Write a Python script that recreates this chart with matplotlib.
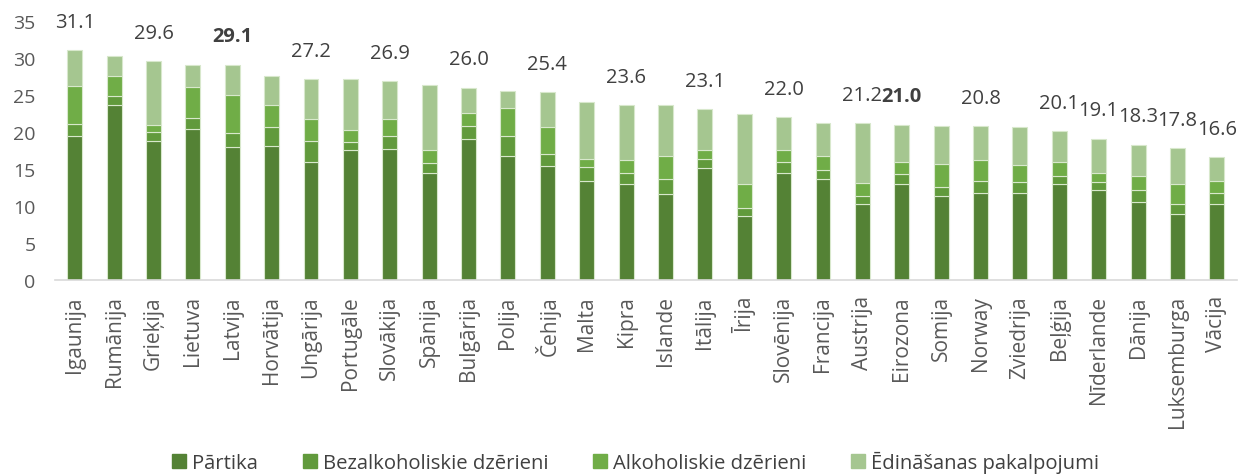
import numpy as np
import matplotlib.pyplot as plt
from matplotlib.patches import Patch

plt.rcParams['font.family'] = ['Open Sans', 'DejaVu Sans']

countries = ['Igaunija', 'Rumānija', 'Grieķija', 'Lietuva', 'Latvija', 'Horvātija',
             'Ungārija', 'Portugāle', 'Slovākija', 'Spānija', 'Bulgārija', 'Polija',
             'Čehija', 'Malta', 'Kipra', 'Islande', 'Itālija', 'Īrija', 'Slovēnija',
             'Francija', 'Austrija', 'Eirozona', 'Somija', 'Norway', 'Zviedrija',
             'Beļģija', 'Nīderlande', 'Dānija', 'Luksemburga', 'Vācija']

# cumulative tops
food_top = [19.5, 23.7, 18.8, 20.4, 18.0, 18.1, 16.0, 17.6, 17.7, 14.5, 19.0, 16.8,
            15.4, 13.4, 12.9, 11.6, 15.1, 8.7, 14.4, 13.6, 10.2, 12.9, 11.4, 11.7,
            11.8, 13.0, 12.2, 10.6, 8.9, 10.3]
soft_top = [21.1, 24.9, 20.0, 21.9, 19.9, 20.7, 18.8, 18.7, 19.4, 15.8, 20.8, 19.5,
            17.0, 15.2, 14.4, 13.6, 16.4, 9.7, 15.9, 14.8, 11.4, 14.3, 12.5, 13.4,
            13.3, 14.1, 13.2, 12.2, 10.2, 11.8]
alco_top = [26.2, 27.5, 20.9, 26.1, 25.0, 23.6, 21.8, 20.3, 21.8, 17.5, 22.6, 23.2,
            20.7, 16.4, 16.2, 16.7, 17.5, 12.9, 17.6, 16.7, 13.1, 15.9, 15.7, 16.2,
            15.6, 15.9, 14.5, 14.0, 12.9, 13.4]
total = [31.1, 30.3, 29.6, 29.1, 29.1, 27.5, 27.2, 27.2, 26.9, 26.4, 26.0, 25.6,
         25.4, 24.0, 23.6, 23.6, 23.1, 22.4, 22.0, 21.2, 21.2, 21.0, 20.8, 20.8,
         20.7, 20.1, 19.1, 18.3, 17.8, 16.6]

labelled = [0, 2, 4, 6, 8, 10, 12, 14, 16, 18, 20, 21, 23, 25, 26, 27, 28, 29]
bold = ['Latvija', 'Eirozona']

series = ['Pārtika', 'Bezalkoholiskie dzērieni', 'Alkoholiskie dzērieni',
          'Ēdināšanas pakalpojumi']
colors = ['#548235', '#619a3c', '#70ad47', '#a5c690']

food = np.array(food_top)
soft = np.array(soft_top) - food
alco = np.array(alco_top) - np.array(soft_top)
rest = np.array(total) - np.array(alco_top)

fig = plt.figure(figsize=(12.39, 4.77), dpi=100)
ax = fig.add_axes([0.0444, 0.411, 0.9536, 0.543])

x = np.arange(len(countries))
bottom = np.zeros(len(countries))
for vals, c in zip([food, soft, alco, rest], colors):
    ax.bar(x, vals, 0.38, bottom=bottom, color=c, edgecolor='#d8e8cc', linewidth=0.8)
    bottom += vals

for i in labelled:
    w = 'bold' if countries[i] in bold else 'normal'
    ax.text(x[i], total[i] + 3.8, f'{total[i]:.1f}', ha='center', va='center',
            fontsize=14.5, color='#404040', fontweight=w, clip_on=False)

ax.set_xlim(-0.5, len(countries) - 0.5)
ax.set_ylim(0, 35)
ax.set_yticks(range(0, 36, 5))
ax.set_xticks(x)
ax.set_xticklabels(countries, rotation=90, fontsize=15, color='#595959')
ax.tick_params(axis='y', labelsize=14, labelcolor='#595959', length=0, pad=14)
ax.tick_params(axis='x', length=0, pad=11)
for s in ['top', 'right', 'left']:
    ax.spines[s].set_visible(False)
ax.spines['bottom'].set_color('#d9d9d9')
ax.spines['bottom'].set_linewidth(1.2)

handles = [Patch(color=c) for c in colors]
fig.legend(handles, series, loc='lower center', ncol=4, frameon=False,
           bbox_to_anchor=(0.513, -0.033), fontsize=14.6, labelcolor='#404040',
           handlelength=0.7, handleheight=0.7, handletextpad=0.3, columnspacing=2.2)

fig.savefig('out.png', dpi=100)
